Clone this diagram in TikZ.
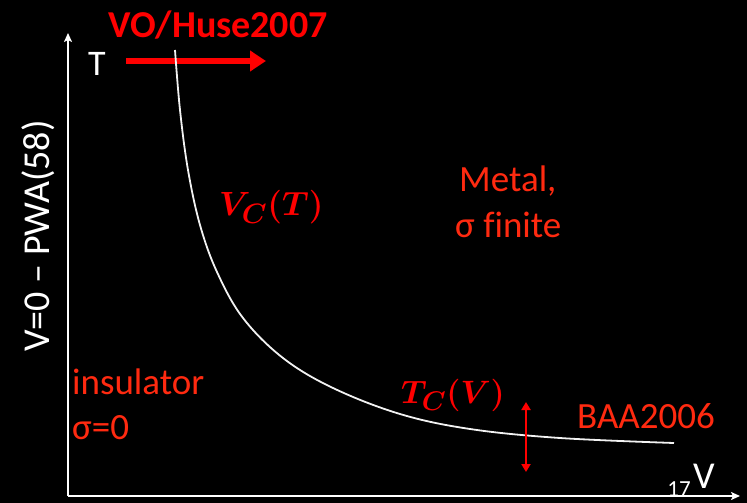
\documentclass[tikz,border=0pt]{standalone}
\usepackage{graphicx}
\usepackage{fontspec}
\usepackage{bm}
\setmainfont{Carlito}[Ligatures=NoCommon]
\usetikzlibrary{arrows.meta}
\definecolor{lred}{HTML}{FF2A10}
\definecolor{pred}{HTML}{FF0000}
\tikzset{
  axis/.style={draw=white, line width=1.8pt, -{Stealth[length=9pt,width=8pt,inset=2pt]}},
  lab/.style={text=lred, font=\fontsize{37}{42}\selectfont, inner sep=0pt, anchor=west},
  wlab/.style={text=white, font=\fontsize{36}{40}\selectfont, inner sep=0pt},
  mlab/.style={text=pred, font=\Huge, inner sep=0pt, anchor=west}
}
\begin{document}
\begin{tikzpicture}[x=1pt,y=-1pt]
\fill[black] (0,0) rectangle (747,503);
\useasboundingbox (0,0) rectangle (747,503);
% axes
\coordinate (o) at (68,496);
\coordinate (ytop) at (68,33);
\coordinate (xend) at (740,496);
\draw[axis] (o) -- (ytop);
\draw[axis] (o) -- (xend);
% axis labels
\node[wlab, anchor=center] (tlab) at (97,64) {T};
\node[wlab, anchor=center, rotate=90, font=\fontsize{38}{40}\selectfont] (ylab) at (38,236) {V=0 – PWA(58)};
\node[text=white, font=\fontsize{23}{25}\selectfont, inner sep=0pt, anchor=center] (n17) at (679,489) {17};
\node[wlab, anchor=center, font=\fontsize{38}{40}\selectfont] (vlab) at (704,476) {V};
% title and arrow
\node[text=pred, font=\bfseries\fontsize{38}{42}\selectfont, inner sep=0pt, anchor=center] (title) at (218,25) {VO/Huse2007};
\coordinate (a1) at (126,61);
\coordinate (a2) at (266,61);
\draw[pred, line width=6pt, -{Triangle[length=16pt,width=20pt]}] (a1) -- (a2);
% curve
\draw[white!90!gray, line width=1.8pt] plot[smooth, tension=0.6] coordinates {(175,50) (180,110) (188,170) (200,225) (217,272) (243,318) (283,358) (333,388) (400,414) (470,429) (560,438) (674,443)};
% labels
\node[mlab] (vc) at (219,207) {\scalebox{1.35}{$\bm{V_C(T)}$}};
\node[mlab] (tc) at (401,395) {\scalebox{1.3}{$\bm{T_C(V)}$}};
\node[lab] (metal) at (459,181) {Metal,};
\node[lab] (sfin) at (455,225) {σ finite};
\node[lab] (ins) at (72,382) {insulator};
\node[lab] (sig0) at (72,428) {σ=0};
\node[lab] (baa) at (577,416) {BAA2006};
% double arrow
\coordinate (d1) at (526,402);
\coordinate (d2) at (526,472);
\draw[pred, line width=2.5pt, {Triangle[length=8pt,width=9pt]}-{Triangle[length=8pt,width=9pt]}] (d1) -- (d2);
\end{tikzpicture}
\end{document}
